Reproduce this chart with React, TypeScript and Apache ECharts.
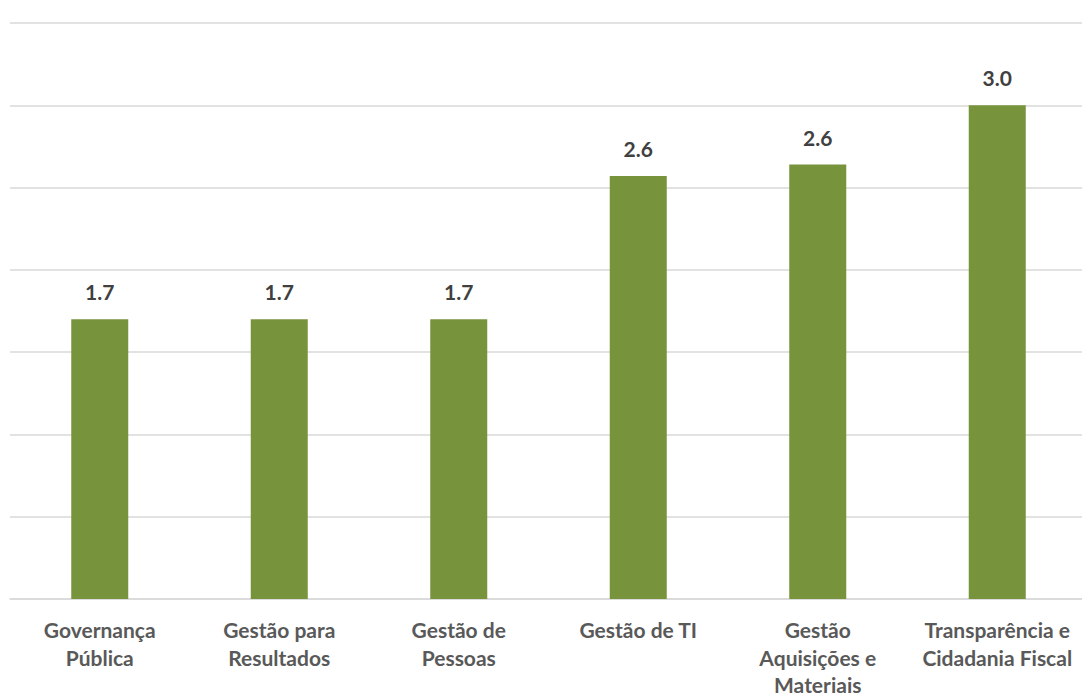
import React, { useEffect, useRef } from "react";
import * as echarts from "echarts";

const categories = [
  "Governança\nPública",
  "Gestão para\nResultados",
  "Gestão de\nPessoas",
  "Gestão de TI",
  "Gestão\nAquisições e\nMateriais",
  "Transparência e\nCidadania Fiscal",
];
const values = [1.7, 1.7, 1.7, 2.57, 2.64, 3.0];
const yMin = 0;
const yMax = 3.5;
const yInterval = 0.5;

export default function App() {
  const ref = useRef<HTMLDivElement>(null);
  useEffect(() => {
    if (!ref.current) return;
    const chart = echarts.init(ref.current, null, { renderer: "svg" });
    chart.setOption({
      animation: false,
      backgroundColor: "#ffffff",
      grid: {
        left: 10,
        top: 23,
        width: 1077,
        height: 576,
        containLabel: false,
        outerBoundsMode: "none",
      },
      xAxis: {
        type: "category",
        data: categories,
        axisLine: { lineStyle: { color: "#d9d9d9", width: 1.5 } },
        axisTick: { show: false },
        axisLabel: {
          interval: 0,
          margin: 17,
          fontFamily: "Lato",
          fontWeight: "bold",
          fontSize: 21,
          lineHeight: 27.5,
          color: "#595959",
        },
      },
      yAxis: {
        type: "value",
        min: yMin,
        max: yMax,
        interval: yInterval,
        axisLabel: { show: false },
        axisLine: { show: false },
        axisTick: { show: false },
        splitLine: { lineStyle: { color: "#d9d9d9", width: 1.5 } },
      },
      series: [
        {
          type: "bar",
          data: values,
          barWidth: 57,
          itemStyle: { color: "#77933C" },
          label: {
            show: true,
            position: "top",
            distance: 17,
            fontFamily: "Lato",
            fontWeight: "bold",
            fontSize: 21,
            color: "#404040",
            formatter: (p: any) => Number(p.value).toFixed(1),
          },
        },
      ],
    });
    return () => chart.dispose();
  }, []);
  return (
    <div
      style={{ position: "absolute", left: 0, top: 0, width: 1082, height: 697, overflow: "hidden" }}
    >
      <div ref={ref} style={{ width: 1095, height: 697 }} />
    </div>
  );
}
